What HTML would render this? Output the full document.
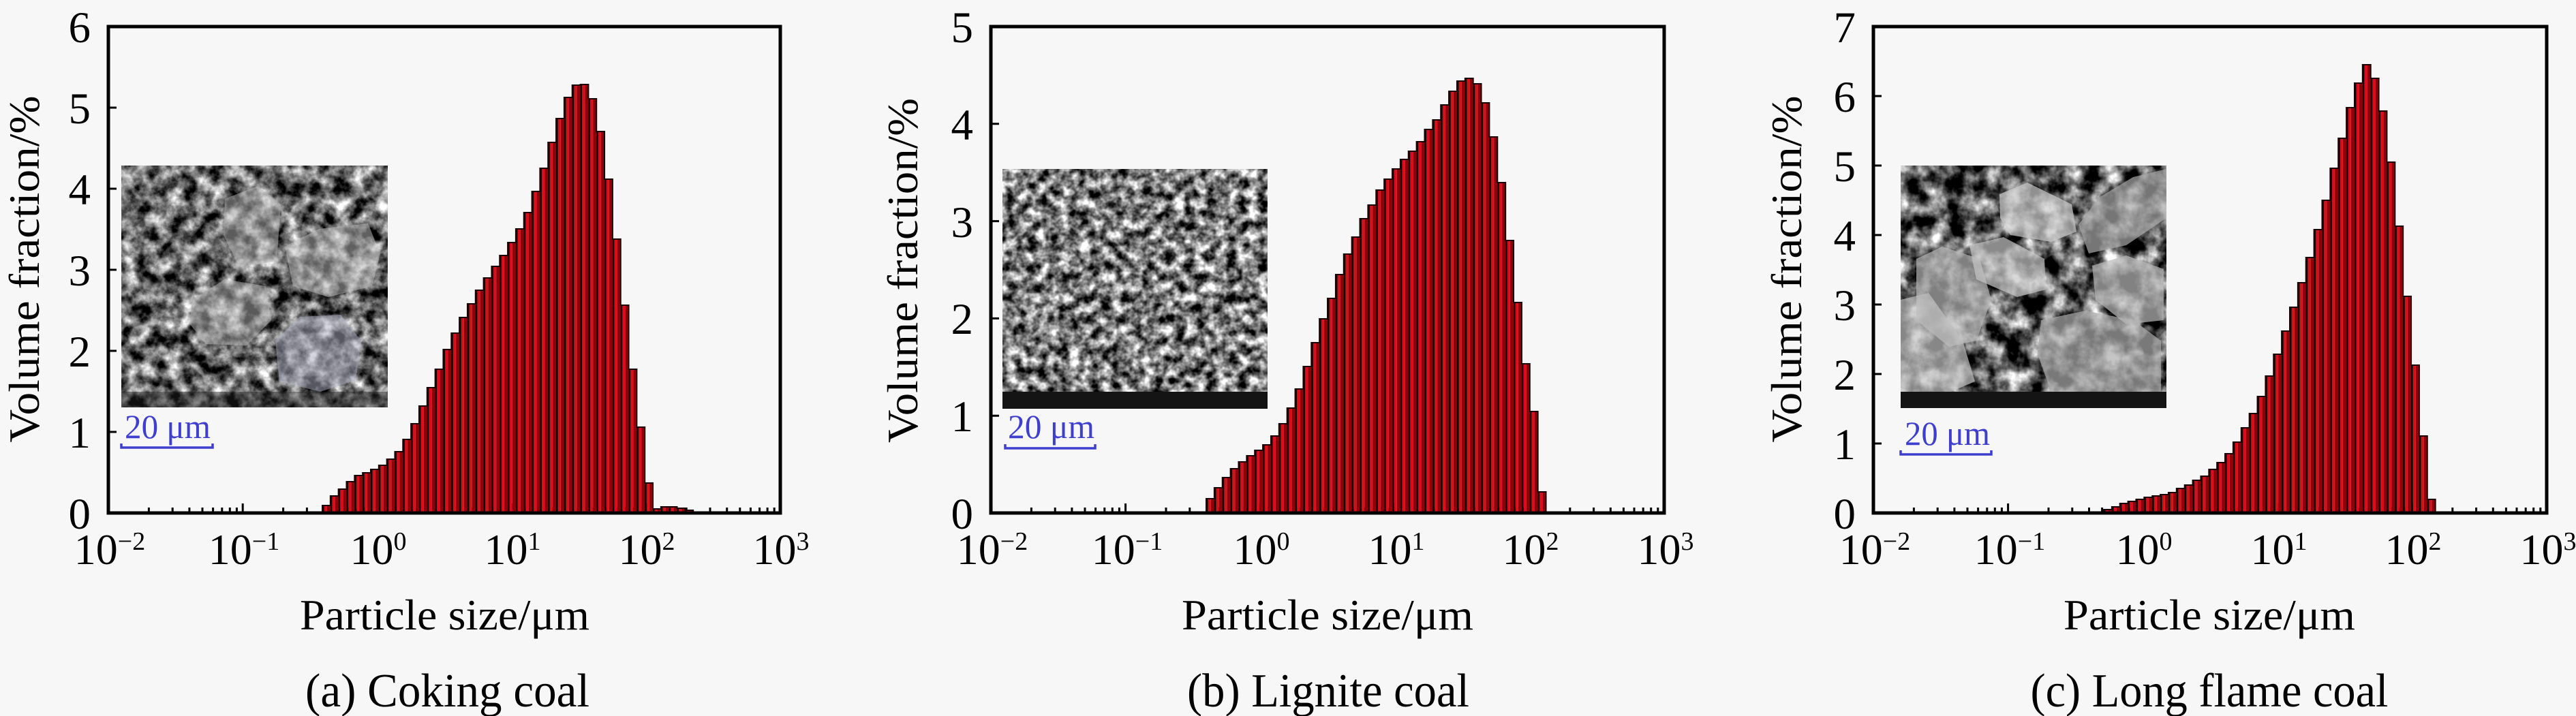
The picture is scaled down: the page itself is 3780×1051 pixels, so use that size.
<!DOCTYPE html>
<html>
<head>
<meta charset="utf-8">
<style>
html,body{margin:0;padding:0;background:#f7f7f7;}
svg{display:block;}
text{font-family:"Liberation Serif","Times New Roman",serif;fill:#000;}
</style>
</head>
<body>
<svg xmlns="http://www.w3.org/2000/svg" xmlns:xlink="http://www.w3.org/1999/xlink" width="3780" height="1051" viewBox="0 0 3780 1051" font-family="Liberation Serif, serif">
<defs>
  <pattern id="stripe" patternUnits="userSpaceOnUse" x="0" y="0" width="1" height="2000">
    <rect x="0" y="0" width="0.24" height="2000" fill="#160202"/>
    <rect x="0.24" y="0" width="0.33" height="2000" fill="#dc0c18"/>
    <rect x="0.57" y="0" width="0.43" height="2000" fill="#90000b"/>
  </pattern>
  <g id="mt"><path d="M59.4,0v-6M94.2,0v-6M118.9,0v-6M138,0v-6M153.6,0v-6M166.8,0v-6M178.3,0v-6M188.4,0v-6" stroke="#000" stroke-width="3" fill="none"/></g>
  <filter id="fA" filterUnits="objectBoundingBox" x="0" y="0" width="1" height="1" color-interpolation-filters="sRGB">
    <feTurbulence type="fractalNoise" baseFrequency="0.045" numOctaves="4" seed="7" result="t"/>
    <feColorMatrix in="t" type="matrix" values="1.9 0 0 0 -0.53  1.9 0 0 0 -0.53  1.9 0 0 0 -0.53  0 0 0 0 1"/>
  </filter>
  <filter id="fB" filterUnits="objectBoundingBox" x="0" y="0" width="1" height="1" color-interpolation-filters="sRGB">
    <feTurbulence type="fractalNoise" baseFrequency="0.065" numOctaves="3" seed="11" result="t"/>
    <feColorMatrix in="t" type="matrix" values="2.0 0 0 0 -0.52  2.0 0 0 0 -0.52  2.0 0 0 0 -0.52  0 0 0 0 1"/>
  </filter>
  <filter id="fC" filterUnits="objectBoundingBox" x="0" y="0" width="1" height="1" color-interpolation-filters="sRGB">
    <feTurbulence type="fractalNoise" baseFrequency="0.035" numOctaves="4" seed="3" result="t"/>
    <feColorMatrix in="t" type="matrix" values="2.1 0 0 0 -0.68  2.1 0 0 0 -0.68  2.1 0 0 0 -0.68  0 0 0 0 1"/>
  </filter>
  <clipPath id="cA"><rect x="178" y="243" width="391" height="355"/></clipPath>
  <clipPath id="cB"><rect x="1471" y="248" width="389" height="352"/></clipPath>
  <clipPath id="cC"><rect x="2789" y="243" width="390" height="356"/></clipPath>
</defs>

<rect x="0" y="0" width="3780" height="1051" fill="#f7f7f7"/>

<!-- ================= PANEL A ================= -->
<path d="M159,634h12M159,515h12M159,396h12M159,277h12M159,158h12" stroke="#000" stroke-width="3"/>
<path d="M356.2,751v-12M553.4,751v-12M750.6,751v-12M947.8,751v-12" stroke="#000" stroke-width="3"/>
<use xlink:href="#mt" x="159" y="751"/>
<use xlink:href="#mt" x="356.2" y="751"/>
<use xlink:href="#mt" x="553.4" y="751"/>
<use xlink:href="#mt" x="750.6" y="751"/>
<use xlink:href="#mt" x="947.8" y="751"/>
<path transform="translate(473,0) scale(11.83,1)" fill="url(#stripe)" stroke="#1a0000" stroke-width="2" vector-effect="non-scaling-stroke"
 d="M0,753 V742 H1 V728 H2 V718 H3 V707 H4 V698 H5 V694 H6 V689 H7 V683 H8 V674 H9 V663 H10 V645 H11 V622 H12 V596 H13 V569 H14 V542 H15 V513 H16 V489 H17 V466 H18 V446 H19 V426 H20 V408 H21 V391 H22 V375 H23 V356 H24 V336 H25 V312 H26 V281 H27 V247 H28 V209 H29 V174 H30 V143 H31 V125 H32 V124 H33 V145 H34 V193 H35 V263 H36 V351 H37 V448 H38 V542 H39 V627 H40 V709 H41 V747 H42 V744 H43 V744 H44 V746 H45 V749 H46 V753 Z"/>
<g clip-path="url(#cA)">
  <rect x="178" y="243" width="391" height="355" fill="#777" filter="url(#fA)"/>
  <polygon points="330,292 378,273 412,300 406,384 350,390 328,345" fill="#b8b8b8" opacity="0.5"/>
  <polygon points="418,362 468,336 540,328 558,372 546,420 482,436 430,420" fill="#c0c0c0" opacity="0.5"/>
  <polygon points="282,440 330,410 390,420 398,470 362,507 302,505 278,475" fill="#b3b3b3" opacity="0.5"/>
  <polygon points="404,500 440,465 500,462 530,500 522,558 470,575 410,560" fill="#aeaec4" opacity="0.5"/>
  <rect x="178" y="575" width="391" height="23" fill="#222" opacity="0.45"/>
</g>
<text x="246" y="643" font-size="50" text-anchor="middle" style="fill:#3f3fcf" textLength="126" lengthAdjust="spacingAndGlyphs">20 μm</text>
<path d="M178,651 v6 h134 v-6" stroke="#3f3fcf" stroke-width="3.5" fill="none"/>
<rect x="159" y="39" width="986" height="714" fill="none" stroke="#000" stroke-width="5"/>
<g font-size="65" text-anchor="end">
  <text x="133" y="776">0</text>
  <text x="133" y="657">1</text>
  <text x="133" y="538">2</text>
  <text x="133" y="419">3</text>
  <text x="133" y="300">4</text>
  <text x="133" y="181">5</text>
  <text x="133" y="62">6</text>
</g>
<g font-size="64" text-anchor="middle">
  <text x="161" y="828">10<tspan font-size="38" dy="-21">−2</tspan></text>
  <text x="358" y="828">10<tspan font-size="38" dy="-21">−1</tspan></text>
  <text x="555" y="828">10<tspan font-size="38" dy="-21">0</tspan></text>
  <text x="752" y="828">10<tspan font-size="38" dy="-21">1</tspan></text>
  <text x="949" y="828">10<tspan font-size="38" dy="-21">2</tspan></text>
  <text x="1146" y="828">10<tspan font-size="38" dy="-21">3</tspan></text>
</g>
<text x="652.5" y="924" font-size="64" text-anchor="middle" textLength="425" lengthAdjust="spacingAndGlyphs">Particle size/μm</text>
<text x="656.5" y="1037" font-size="70" text-anchor="middle" textLength="417" lengthAdjust="spacingAndGlyphs">(a) Coking coal</text>
<text transform="translate(57,395) rotate(-90)" font-size="63" text-anchor="middle" textLength="509" lengthAdjust="spacingAndGlyphs">Volume fraction/%</text>

<!-- ================= PANEL B ================= -->
<path d="M1454,610.2h12M1454,467.4h12M1454,324.6h12M1454,181.8h12" stroke="#000" stroke-width="3"/>
<path d="M1651.6,751v-12M1849.2,751v-12M2046.8,751v-12M2244.4,751v-12" stroke="#000" stroke-width="3"/>
<use xlink:href="#mt" x="1454" y="751"/>
<use xlink:href="#mt" x="1651.6" y="751"/>
<use xlink:href="#mt" x="1849.2" y="751"/>
<use xlink:href="#mt" x="2046.8" y="751"/>
<use xlink:href="#mt" x="2244.4" y="751"/>
<path transform="translate(1770,0) scale(11.87,1)" fill="url(#stripe)" stroke="#1a0000" stroke-width="2" vector-effect="non-scaling-stroke"
 d="M0,753 V732 H1 V716 H2 V701 H3 V688 H4 V678 H5 V669 H6 V661 H7 V653 H8 V640 H9 V622 H10 V599 H11 V571 H12 V538 H13 V503 H14 V468 H15 V438 H16 V403 H17 V373 H18 V348 H19 V321 H20 V301 H21 V279 H22 V263 H23 V248 H24 V234 H25 V222 H26 V208 H27 V190 H28 V176 H29 V154 H30 V134 H31 V119 H32 V115 H33 V123 H34 V151 H35 V201 H36 V268 H37 V353 H38 V444 H39 V534 H40 V604 H41 V722 H42 V753 Z"/>
<g clip-path="url(#cB)">
  <rect x="1471" y="248" width="389" height="352" fill="#888" filter="url(#fB)"/>
  <rect x="1471" y="575" width="389" height="25" fill="#141414"/>
</g>
<text x="1542.5" y="643" font-size="50" text-anchor="middle" style="fill:#3f3fcf" textLength="127" lengthAdjust="spacingAndGlyphs">20 μm</text>
<path d="M1475,652 v6 h132 v-6" stroke="#3f3fcf" stroke-width="3.5" fill="none"/>
<rect x="1454" y="39" width="988" height="714" fill="none" stroke="#000" stroke-width="5"/>
<g font-size="65" text-anchor="end">
  <text x="1428" y="776">0</text>
  <text x="1428" y="633">1</text>
  <text x="1428" y="490">2</text>
  <text x="1428" y="348">3</text>
  <text x="1428" y="205">4</text>
  <text x="1428" y="62">5</text>
</g>
<g font-size="64" text-anchor="middle">
  <text x="1456" y="828">10<tspan font-size="38" dy="-21">−2</tspan></text>
  <text x="1654" y="828">10<tspan font-size="38" dy="-21">−1</tspan></text>
  <text x="1851" y="828">10<tspan font-size="38" dy="-21">0</tspan></text>
  <text x="2049" y="828">10<tspan font-size="38" dy="-21">1</tspan></text>
  <text x="2246" y="828">10<tspan font-size="38" dy="-21">2</tspan></text>
  <text x="2444" y="828">10<tspan font-size="38" dy="-21">3</tspan></text>
</g>
<text x="1948" y="924" font-size="64" text-anchor="middle" textLength="428" lengthAdjust="spacingAndGlyphs">Particle size/μm</text>
<text x="1949" y="1037" font-size="70" text-anchor="middle" textLength="414" lengthAdjust="spacingAndGlyphs">(b) Lignite coal</text>
<text transform="translate(1346,397) rotate(-90)" font-size="63" text-anchor="middle" textLength="506" lengthAdjust="spacingAndGlyphs">Volume fraction/%</text>

<!-- ================= PANEL C ================= -->
<path d="M2749,651h12M2749,549h12M2749,447h12M2749,345h12M2749,243h12M2749,141h12" stroke="#000" stroke-width="3"/>
<path d="M2946.6,751v-12M3144.2,751v-12M3341.8,751v-12M3539.4,751v-12" stroke="#000" stroke-width="3"/>
<use xlink:href="#mt" x="2749" y="751"/>
<use xlink:href="#mt" x="2946.6" y="751"/>
<use xlink:href="#mt" x="3144.2" y="751"/>
<use xlink:href="#mt" x="3341.8" y="751"/>
<use xlink:href="#mt" x="3539.4" y="751"/>
<path transform="translate(3087,0) scale(11.87,1)" fill="url(#stripe)" stroke="#1a0000" stroke-width="2" vector-effect="non-scaling-stroke"
 d="M0,753 V748 H1 V744 H2 V739 H3 V736 H4 V733 H5 V730 H6 V728 H7 V726 H8 V723 H9 V717 H10 V712 H11 V705 H12 V699 H13 V689 H14 V679 H15 V666 H16 V649 H17 V628 H18 V607 H19 V582 H20 V552 H21 V520 H22 V486 H23 V451 H24 V415 H25 V378 H26 V337 H27 V294 H28 V247 H29 V203 H30 V158 H31 V122 H32 V95 H33 V115 H34 V163 H35 V238 H36 V332 H37 V435 H38 V536 H39 V640 H40 V733 H41 V753 Z"/>
<g clip-path="url(#cC)">
  <rect x="2789" y="243" width="390" height="356" fill="#666" filter="url(#fC)"/>
  <polygon points="2934,285 2975,268 3040,300 3047,340 3010,355 2950,345 2935,320" fill="#cdcdcd" opacity="0.7"/>
  <polygon points="3050,330 3080,290 3130,260 3179,248 3179,320 3120,360 3065,372" fill="#a8a8a8" opacity="0.7"/>
  <polygon points="2812,380 2850,362 2905,380 2922,440 2900,500 2860,509 2812,470" fill="#b6b6b6" opacity="0.7"/>
  <polygon points="2789,440 2830,430 2880,500 2898,560 2860,576 2789,576" fill="#c0c0c0" opacity="0.7"/>
  <polygon points="2890,360 2940,348 3000,380 3002,425 2960,436 2900,410" fill="#c6c6c6" opacity="0.7"/>
  <polygon points="2995,470 3060,456 3130,470 3171,500 3171,576 3010,576 2990,520" fill="#acacac" opacity="0.7"/>
  <polygon points="3070,390 3120,375 3175,395 3175,470 3120,476 3075,440" fill="#b9b9b9" opacity="0.7"/>
  <rect x="2789" y="575" width="390" height="24" fill="#141414"/>
</g>
<text x="2857.5" y="653" font-size="50" text-anchor="middle" style="fill:#3f3fcf" textLength="125" lengthAdjust="spacingAndGlyphs">20 μm</text>
<path d="M2789,661 v6 h133 v-6" stroke="#3f3fcf" stroke-width="3.5" fill="none"/>
<rect x="2749" y="39" width="988" height="714" fill="none" stroke="#000" stroke-width="5"/>
<g font-size="65" text-anchor="end">
  <text x="2723" y="776">0</text>
  <text x="2723" y="674">1</text>
  <text x="2723" y="572">2</text>
  <text x="2723" y="470">3</text>
  <text x="2723" y="368">4</text>
  <text x="2723" y="266">5</text>
  <text x="2723" y="164">6</text>
  <text x="2723" y="62">7</text>
</g>
<g font-size="64" text-anchor="middle">
  <text x="2751" y="828">10<tspan font-size="38" dy="-21">−2</tspan></text>
  <text x="2949" y="828">10<tspan font-size="38" dy="-21">−1</tspan></text>
  <text x="3146" y="828">10<tspan font-size="38" dy="-21">0</tspan></text>
  <text x="3344" y="828">10<tspan font-size="38" dy="-21">1</tspan></text>
  <text x="3541" y="828">10<tspan font-size="38" dy="-21">2</tspan></text>
  <text x="3739" y="828">10<tspan font-size="38" dy="-21">3</tspan></text>
</g>
<text x="3242" y="924" font-size="64" text-anchor="middle" textLength="428" lengthAdjust="spacingAndGlyphs">Particle size/μm</text>
<text x="3242" y="1037" font-size="70" text-anchor="middle" textLength="525" lengthAdjust="spacingAndGlyphs">(c) Long flame coal</text>
<text transform="translate(2643,395) rotate(-90)" font-size="63" text-anchor="middle" textLength="509" lengthAdjust="spacingAndGlyphs">Volume fraction/%</text>
</svg>
</body>
</html>
